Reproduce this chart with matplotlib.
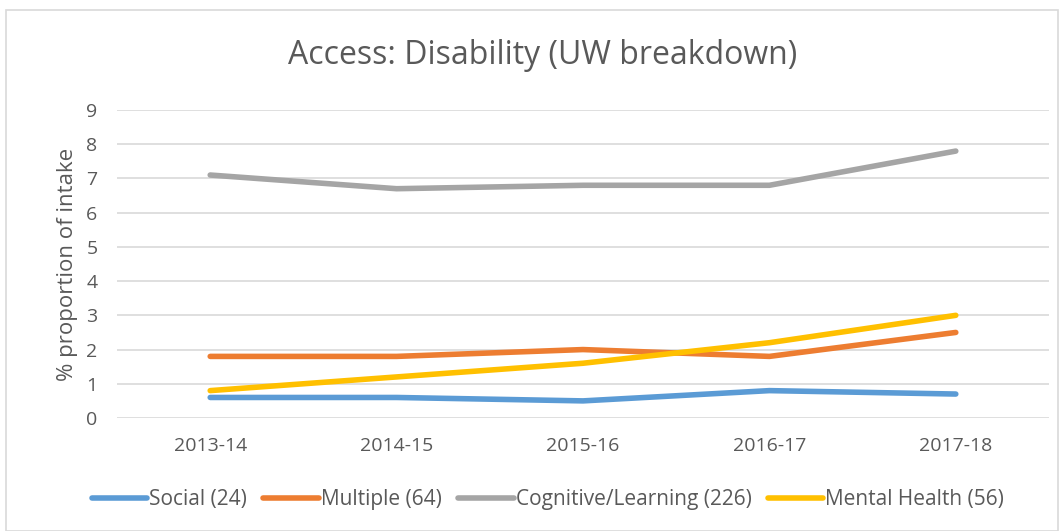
import matplotlib.pyplot as plt
from matplotlib.patches import Rectangle

years = ['2013-14', '2014-15', '2015-16', '2016-17', '2017-18']
social = [0.6, 0.6, 0.5, 0.8, 0.7]
multiple = [1.8, 1.8, 2.0, 1.8, 2.5]
cognitive = [7.1, 6.7, 6.8, 6.8, 7.8]
mental = [0.8, 1.2, 1.6, 2.2, 3.0]

series = [
    ('Social (24)', social, '#5B9BD5'),
    ('Multiple (64)', multiple, '#ED7D31'),
    ('Cognitive/Learning (226)', cognitive, '#A5A5A5'),
    ('Mental Health (56)', mental, '#FFC000'),
]

plt.rcParams['font.family'] = ['Open Sans', 'DejaVu Sans']
txt = '#595959'

fig = plt.figure(figsize=(10.64, 5.31), dpi=100)
ax = fig.add_axes([117 / 1064, 1 - 418 / 531, (1049 - 117) / 1064, (418 - 110) / 531])

x = range(len(years))
for name, vals, col in series:
    ax.plot(x, vals, color=col, lw=4, solid_capstyle='round', solid_joinstyle='round', label=name)

ax.set_xlim(-0.5, 4.5)
ax.set_ylim(0, 9)
ax.set_yticks(range(10))
ax.set_xticks(list(x))
ax.set_xticklabels(years)
ax.grid(axis='y', color='#D9D9D9', lw=1.2)
ax.set_axisbelow(True)
for s in ax.spines.values():
    s.set_visible(False)
ax.tick_params(length=0, labelsize=14, colors=txt)
ax.tick_params(axis='x', pad=14)
ax.tick_params(axis='y', pad=14)
ax.set_ylabel('% proportion of intake', fontsize=16, color=txt, labelpad=6)

fig.text(0.51, 1 - 55 / 531, 'Access: Disability (UW breakdown)', ha='center', va='center',
         fontsize=23, color=txt)

leg = fig.legend(loc='center', bbox_to_anchor=(548 / 1064, 1 - 500 / 531), ncol=4, frameon=False,
                 fontsize=15, handlelength=2.65, handletextpad=0.1, columnspacing=0.8,
                 labelcolor=txt)

fig.patches.append(Rectangle((6 / 1064, 0), 1052 / 1064, 1 - 10 / 531, transform=fig.transFigure,
                             fill=False, edgecolor='#D9D9D9', lw=1.2))

fig.savefig('out.png', dpi=100)
